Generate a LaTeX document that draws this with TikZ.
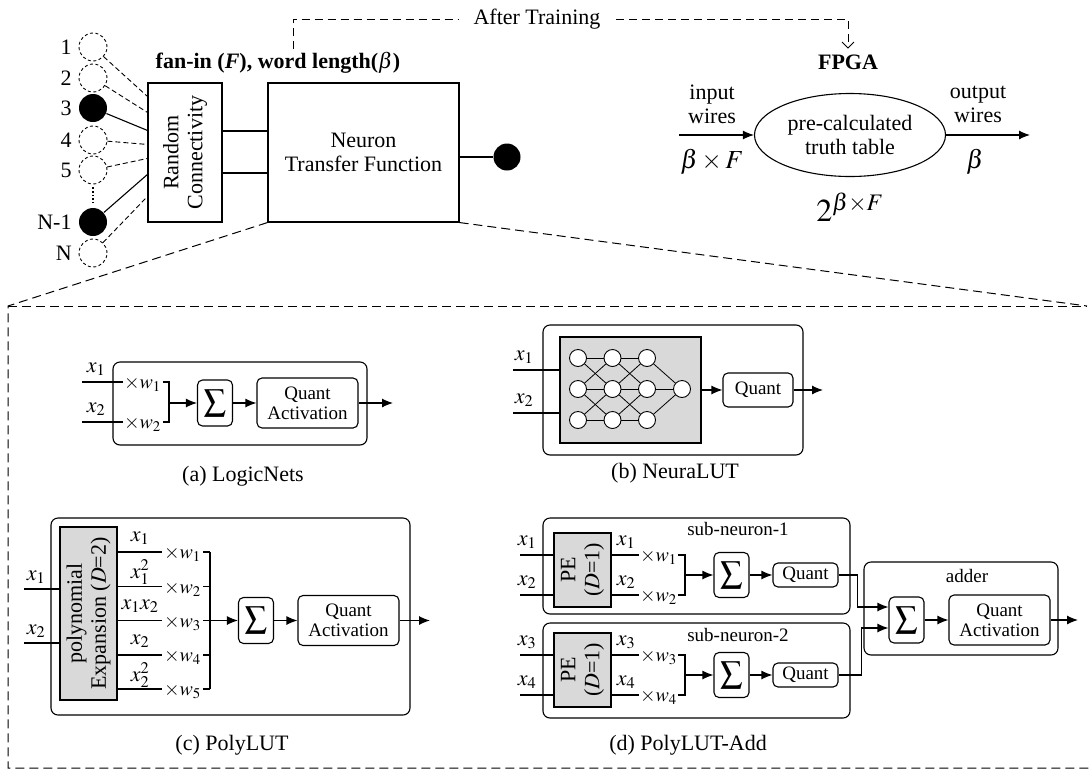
\documentclass[tikz,border=0pt]{standalone}
\usepackage{amsmath}
\usepackage{mathptmx}
\usepackage[no-math]{fontspec}
\setmainfont{Liberation Serif}
\usetikzlibrary{shapes.geometric,arrows.meta,positioning}
\tikzset{
  box/.style={draw,inner sep=0pt,align=center},
  rbox/.style={box,rounded corners=7pt},
  pebox/.style={box,fill=black!15},
  sumbox/.style={box,rounded corners=5pt,minimum width=35pt,minimum height=46pt},
  qabox/.style={box,rounded corners=5pt,minimum width=101pt,minimum height=50pt,font=\fontsize{19}{20}\selectfont},
  qbox/.style={box,rounded corners=5pt,font=\fontsize{19}{20}\selectfont},
  sm/.style={font=\fontsize{19}{21}\selectfont},
  arr/.style={-{Latex[length=11pt,width=9pt]}},
  dot/.style={circle,fill,inner sep=0pt,minimum size=28pt},
  ghost/.style={circle,draw,line width=0.9pt,dash pattern=on 3pt off 2.5pt,inner sep=0pt,minimum size=28pt},
  cdash/.style={line width=0.9pt,dash pattern=on 5pt off 3pt},
  neu/.style={circle,draw,fill=white,line width=0.9pt,inner sep=0pt,minimum size=17pt},
  zoomd/.style={line width=1pt,dash pattern=on 9pt off 5pt},
  atd/.style={line width=1pt,dash pattern=on 8pt off 5pt},
  mulw/.style={anchor=west,inner sep=0.5pt,font=\fontsize{20}{22}\selectfont},
}

\begin{document}
\begin{tikzpicture}[x=1pt,y=-1pt,line width=1.1pt,font=\fontsize{22}{24}\selectfont]
\useasboundingbox (0,0) rectangle (1089,777);

% inputs of one neuron
\path (93,47) node(c1)[ghost]{} (93,78) node(c2)[ghost]{} (93,108) node(c3)[dot]{}
(93,140) node(c4)[ghost]{} (93,170) node(c5)[ghost]{} (93,222) node(cm)[dot]{}
(93,253) node(cn)[ghost]{};
\node[left=3pt of c1]{1};
\node[left=3pt of c2]{2};
\node[left=3pt of c3]{3};
\node[left=3pt of c4]{4};
\node[left=3pt of c5]{5};
\node[left=3pt of cm]{N-1};
\node[left=3pt of cn]{N};
\draw[dotted,line width=1.6pt] ([yshift=-3pt]c5.south)--([yshift=3pt]cm.north);

\node[box,minimum width=74pt,minimum height=139pt] (rc) at (185,152.5) {};
\node[rotate=90,align=center] at (rc) {Random\\Connectivity};
\node[box,minimum width=191pt,minimum height=139pt] (ntf) at (363.5,152.5) {Neuron\\Transfer Function};
\node[dot,minimum size=27pt] (out) at (507,157) {};

\draw[cdash](c1)--([yshift=-14pt]rc.north west);
\draw[cdash](c2)--([yshift=-30pt]rc.north west);
\draw(c3)--([yshift=-48pt]rc.north west);
\draw[cdash](c4)--([yshift=-62pt]rc.north west);
\draw[cdash](c5)--([yshift=-76pt]rc.north west);
\draw(cm)--([yshift=-92pt]rc.north west);
\draw[cdash](cn)--([yshift=-114pt]rc.north west);
\draw([yshift=21.5pt]rc.east)--([yshift=21.5pt]ntf.west);
\draw([yshift=-20.5pt]rc.east)--([yshift=-20.5pt]ntf.west);
\draw(ntf.east |- out)--(out);

\node (fanin) at (278,63) {\textbf{fan-in (\textit{F}), word length(}$\beta$\textbf{)}};
\node[inner xsep=15pt] (after) at (537,19) {After Training};
\node (fpga) at (848,62) {\textbf{FPGA}};
\draw[atd]([xshift=15pt,yshift=-1pt]fanin.north) |- (after.west);
\draw[atd,-{Straight Barb[length=6pt,width=12pt]}](after.east) -| ([yshift=2pt]fpga.north);

% lookup table on the FPGA
\node[ellipse,draw,inner sep=0pt,minimum width=191pt,minimum height=83pt,align=center] (tt) at (850,135) {pre-calculated\\truth table};
\coordinate (inw) at (679,135);
\coordinate (outw) at (1030,135);
\draw[arr](inw)--(tt);
\draw[arr](tt)--(outw);
\node[align=center] at (712,104) {input\\wires};
\node at (712,162) {\fontsize{26}{28}\selectfont$\beta\times F$};
\node[align=center] at (978,104) {output\\wires};
\node at (975,162) {\fontsize{26}{28}\selectfont$\beta$};
\node at (850,207) {\fontsize{32}{34}\selectfont$2^{\beta\times F}$};

% zoom into the transfer function
\coordinate (zl) at (8,306);
\coordinate (zr) at (1087,306);
\draw[zoomd](ntf.south west)--(zl)--(8,768)--(1089,768);
\draw[zoomd](ntf.south east)--(zr);
\draw[zoomd](zl)--(zr);

% (a)
\node[rbox,minimum width=254pt,minimum height=83pt] (abox) at (240,403.5) {};
\coordinate (ax1) at (82,382);
\coordinate (ax2) at (82,422);
\node[mulw] (aw1) at (123,384.5) {$\times w_1$};
\node[mulw] (aw2) at (123,424.5) {$\times w_2$};
\draw(ax1)--(ax1 -| aw1.west);
\draw(ax2)--(ax2 -| aw2.west);
\node at (96,369) {$x_1$};
\node at (96,409) {$x_2$};
\draw(163,382) -| (169,422)--(163,422);
\coordinate (abr) at (169,403);
\node[sumbox] (asum) at (215,403) {$\displaystyle\sum$};
\node[qabox] (aqa) at (307.5,403) {Quant\\Activation};
\coordinate (aout) at (393,403);
\draw[arr](abr)--(asum);
\draw[arr](asum)--(aqa);
\draw[arr](aqa)--(aout);
\node at (243,476) {(a) LogicNets};

% (b)
\node[rbox,minimum width=260pt,minimum height=130pt] (bbox) at (673,390) {};
\node[pebox,minimum width=141pt,minimum height=106pt] (bnn) at (630.5,390) {};
\foreach \i in {1,2,3}
  \foreach \j in {1,2,3}
    \node[neu] (n\i\j) at ({578+34.5*(\i-1)},{358+31*(\j-1)}) {};
\node[neu] (nout) at (682,389) {};
\foreach \i/\k in {1/2,2/3}
  \foreach \j/\m in {1/1,1/2,2/1,2/2,2/3,3/2,3/3}
    \draw[line width=0.8pt](n\i\j)--(n\k\m);
\foreach \j in {1,2,3}
  \draw[line width=0.8pt](n3\j)--(nout);
\coordinate (bx1) at (513,370);
\coordinate (bx2) at (513,413);
\draw(bx1)--(bx1 -| bnn.west);
\draw(bx2)--(bx2 -| bnn.west);
\node at (524,357) {$x_1$};
\node at (524,400) {$x_2$};
\node[qbox,minimum width=70pt,minimum height=34pt] (bq) at (758,390) {Quant};
\coordinate (bout) at (823,390);
\draw[arr](bnn)--(bq);
\draw[arr](bq)--(bout);
\node at (675,473) {(b) NeuraLUT};

% (c)
\node[rbox,minimum width=359pt,minimum height=197pt] (cbox) at (230.5,616.5) {};
\node[pebox,minimum width=57pt,minimum height=173pt] (cpe) at (88.5,613.5) {};
\node[rotate=90,align=center] at (cpe) {polynomial\\Expansion ($D$=2)};
\coordinate (cx1) at (24,589);
\coordinate (cx2) at (24,643);
\draw(cx1)--(cx1 -| cpe.west);
\draw(cx2)--(cx2 -| cpe.west);
\node at (36,577) {$x_1$};
\node at (36,631) {$x_2$};
\foreach \y/\t/\n in {552/x_1/1,586.3/x_1^2/2,620.5/x_1x_2/3,655/x_2/4,689/x_2^2/5}{
  \draw(cpe.east |- 0,\y)--(162,\y);
  \node at (140,\y-14) {$\t$};
  \node[mulw] (cw\n) at (163,\y+2.5) {$\times w_\n$};
  \draw(203,\y)--(210,\y);
}
\draw(210,552)--(210,689);
\coordinate (cbr) at (210,620.5);
\node[sumbox] (csum) at (256,620.5) {$\displaystyle\sum$};
\node[qabox] (cqa) at (348.5,620.5) {Quant\\Activation};
\coordinate (cout) at (430,620.5);
\draw[arr](cbr)--(csum);
\draw[arr](csum)--(cqa);
\draw[arr](cqa)--(cout);
\node at (232,745) {(c) PolyLUT};

% (d)
\node[rbox,minimum width=307pt,minimum height=96pt] (dsn1) at (696.5,566) {};
\node[rbox,minimum width=307pt,minimum height=95pt] (dsn2) at (696.5,670.5) {};
\node[sm] at (738,529) {sub-neuron-1};
\node[sm] at (738,635) {sub-neuron-2};
\foreach \s/\o/\a/\b in {1/0/1/2,2/100/3/4}{
  \node[pebox,minimum width=57pt,minimum height=74pt] (dpe\s) at (582.5,570+\o) {};
  \node[rotate=90,align=center] at (dpe\s) {PE\\($D$=1)};
  \draw(520,555+\o)--([yshift=15pt]dpe\s.west);
  \draw(520,595+\o)--([yshift=-25pt]dpe\s.west);
  \draw([yshift=15pt]dpe\s.east)--++(27,0);
  \draw([yshift=-25pt]dpe\s.east)--++(27,0);
  \node at (527,542+\o) {$x_\a$};
  \node at (527,582+\o) {$x_\b$};
  \node at (626,542+\o) {$x_\a$};
  \node at (626,582+\o) {$x_\b$};
  \node[mulw] (dw\a) at (639,557.5+\o) {$\times w_\a$};
  \node[mulw] (dw\b) at (639,597.5+\o) {$\times w_\b$};
  \draw(678,555+\o) -| (685,595+\o)--(678,595+\o);
  \node[sumbox,minimum height=45pt] (dsum\s) at (731.5,575+\o) {$\displaystyle\sum$};
  \node[qbox,minimum width=65pt,minimum height=24pt] (dq\s) at (805.5,575+\o) {Quant};
  \draw[arr](685,575+\o)--(dsum\s);
  \draw[arr](dsum\s)--(dq\s);
}
\node[rbox,minimum width=194pt,minimum height=93pt] (dadd) at (961,608.5) {};
\node[sm] at (967,576) {adder};
\node[sumbox] (dasum) at (906.5,620) {$\displaystyle\sum$};
\node[qabox] (daqa) at (999.5,620) {Quant\\Activation};
\coordinate (dout) at (1078,620);
\draw[arr](dq1.east)--++(19,0) |- ([yshift=13pt]dasum.west);
\draw[arr](dq2.east)--++(23,0) |- ([yshift=-8pt]dasum.west);
\draw[arr](dasum)--(daqa);
\draw[arr](daqa)--(dout);
\node at (688,745) {(d) PolyLUT-Add};

\end{tikzpicture}
\end{document}
